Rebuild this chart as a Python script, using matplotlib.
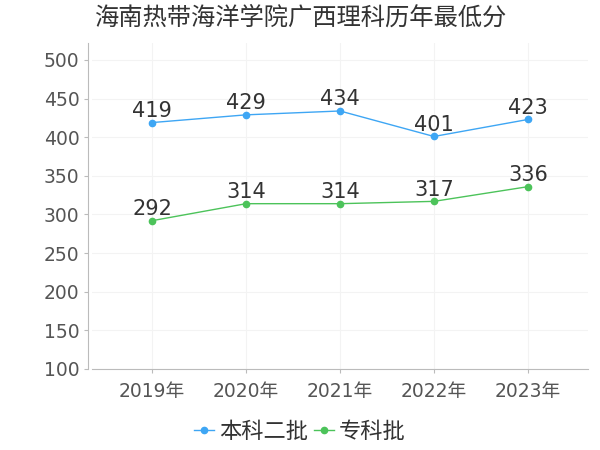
import matplotlib

matplotlib.use("Agg")
import matplotlib.pyplot as plt

plt.rcParams["font.family"] = ["DejaVu Sans", "Noto Sans CJK SC"]
CJK = ["Noto Sans CJK SC", "DejaVu Sans"]

YEARS = ["2019年", "2020年", "2021年", "2022年", "2023年"]
BENKE = [419, 429, 434, 401, 423]
ZHUANKE = [292, 314, 314, 317, 336]
SERIES = [("本科二批", BENKE, "#3ea6f4"), ("专科批", ZHUANKE, "#4cc35a")]

fig = plt.figure(figsize=(6, 4.5), dpi=100)
ax = fig.add_axes([92 / 600, 1 - 369 / 450, 496 / 600, 326 / 450])

xs = list(range(len(YEARS)))
for name, vals, col in SERIES:
    ax.plot(xs, vals, color=col, lw=1, marker="o", ms=4.5, label=name)
    for x, v in zip(xs, vals):
        ax.text(x, v + 2, str(v), ha="center", va="bottom", fontsize=15,
                color="#333333")

ax.set_xlim(-0.64, 4.64)
ax.set_ylim(100, 522)
ax.set_xticks(xs)
ax.set_xticklabels(YEARS)
ax.set_yticks(range(100, 501, 50))
ax.tick_params(axis="both", labelsize=13.5, colors="#bbbbbb",
               labelcolor="#555555", length=3)
ax.tick_params(axis="y", pad=3)
ax.tick_params(axis="x", pad=6)
ax.grid(True, color="#f3f3f3", lw=0.8)
ax.set_axisbelow(True)
for s in ("top", "right"):
    ax.spines[s].set_visible(False)
for s in ("left", "bottom"):
    ax.spines[s].set_color("#bbbbbb")
ax.spines["left"].set_position(("outward", 3))

fig.text(0.5, 1 - 18 / 450, "海南热带海洋学院广西理科历年最低分", ha="center",
         va="center", fontsize=17.5, color="#333333", family=CJK)
fig.legend(loc="center", bbox_to_anchor=(0.5, 1 - 431 / 450), ncol=2,
           frameon=False, prop={"family": CJK, "size": 16},
           handlelength=0.9, handletextpad=0.2, columnspacing=0.3,
           labelcolor="#333333")

fig.savefig("out.png", dpi=100)
